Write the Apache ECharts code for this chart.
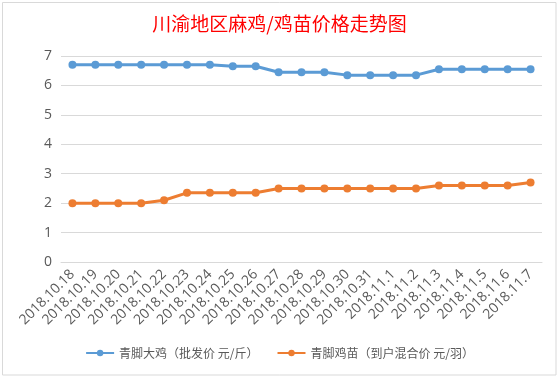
<!DOCTYPE html>
<html><head><meta charset="utf-8">
<script src="https://cdn.jsdelivr.net/npm/echarts@6/dist/echarts.min.js"></script>
<style>html,body{margin:0;padding:0;background:#fff;}#c{width:559px;height:378px;}</style>
</head><body><div id="c"></div>
<script>
const categories = ['2018.10.18','2018.10.19','2018.10.20','2018.10.21','2018.10.22','2018.10.23','2018.10.24','2018.10.25','2018.10.26','2018.10.27','2018.10.28','2018.10.29','2018.10.30','2018.10.31','2018.11.1','2018.11.2','2018.11.3','2018.11.4','2018.11.5','2018.11.6','2018.11.7'];
const bigChicken = [6.7,6.7,6.7,6.7,6.7,6.7,6.7,6.65,6.65,6.45,6.45,6.45,6.35,6.35,6.35,6.35,6.55,6.55,6.55,6.55,6.55];
const chick = [2.0,2.0,2.0,2.0,2.1,2.35,2.35,2.35,2.35,2.5,2.5,2.5,2.5,2.5,2.5,2.5,2.6,2.6,2.6,2.6,2.7];
const seriesNames = ['青脚大鸡（批发价 元/斤）','青脚鸡苗（到户混合价 元/羽）'];
const yTicks = [0,1,2,3,4,5,6,7];

const chart = echarts.init(document.getElementById('c'));
const font = '"Noto Sans CJK SC","Microsoft YaHei",sans-serif';
const numFont = '"Open Sans","Noto Sans",sans-serif';
chart.setOption({
  animation:false,
  backgroundColor:'#fff',
  title:{text:'川渝地区麻鸡/鸡苗价格走势图',left:'center',top:9,
    textStyle:{color:'#FF0000',fontSize:19,fontWeight:'normal',fontFamily:font}},
  graphic:[{type:'rect',shape:{x:2.5,y:2.5,width:553.5,height:372.5},
    style:{fill:'none',stroke:'#d9d9d9',lineWidth:1},silent:true}],
  legend:{bottom:14,left:'center',itemWidth:28,itemHeight:8,itemGap:18,
    textStyle:{color:'#595959',fontSize:12,fontFamily:font},
    data:seriesNames},
  grid:{left:61,right:17,top:56,bottom:116,containLabel:false},
  xAxis:{type:'category',data:categories,boundaryGap:true,
    axisLine:{lineStyle:{color:'#d9d9d9',width:1}},axisTick:{show:false},
    axisLabel:{rotate:45,interval:0,color:'#595959',fontSize:14,margin:10,fontFamily:numFont}},
  yAxis:{type:'value',min:yTicks[0],max:yTicks[yTicks.length-1],interval:1,
    axisLine:{show:false},axisTick:{show:false},
    splitLine:{lineStyle:{color:'#d9d9d9',width:1}},
    axisLabel:{color:'#595959',fontSize:14,margin:9,fontFamily:numFont}},
  series:[
    {name:seriesNames[0],type:'line',data:bigChicken,symbol:'circle',symbolSize:8,
      lineStyle:{width:3,color:'#5B9BD5'},itemStyle:{color:'#5B9BD5'}},
    {name:seriesNames[1],type:'line',data:chick,symbol:'circle',symbolSize:8,
      lineStyle:{width:3,color:'#ED7D31'},itemStyle:{color:'#ED7D31'}}
  ]
});
</script></body></html>
